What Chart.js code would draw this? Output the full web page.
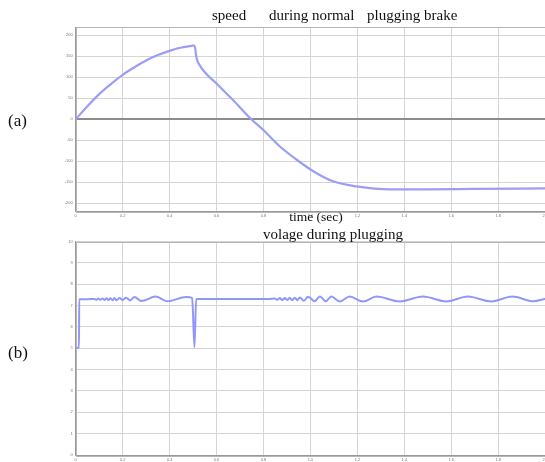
<!DOCTYPE html>
<html><head><meta charset="utf-8">
<script src="https://cdn.jsdelivr.net/npm/chart.js@4"></script>
<style>
html,body{margin:0;padding:0;background:#fff;overflow:hidden;width:545px;height:462px}
#wrap{position:relative;width:545px;height:462px;overflow:hidden}
canvas{position:absolute;left:0}
</style></head>
<body><div id="wrap">
<canvas id="c1" width="550" height="226" style="top:0;width:550px;height:226px"></canvas>
<canvas id="c2" width="550" height="236" style="top:226px;width:550px;height:236px"></canvas>
</div>
<script>
// ---- data ----
const speedTime   = [0, 0.05, 0.10, 0.15, 0.20, 0.25, 0.30, 0.35, 0.40, 0.45, 0.492, 0.500, 0.508, 0.514, 0.528, 0.600, 0.670, 0.748, 0.798, 0.870, 0.940, 1.012, 1.096, 1.196, 1.338, 1.500, 1.700, 2.000];
const speedValues = [0, 31, 60, 84, 106, 124, 140, 153, 163, 171, 175, 176, 172, 148, 129, 85, 46, 0, -25, -65, -96, -124, -148, -160, -167, -167, -166, -165];

const voltTime   = [0, 0.014, 0.015, 0.050, 0.080, 0.089, 0.097, 0.106, 0.114, 0.123, 0.131, 0.140, 0.148, 0.157, 0.165, 0.174, 0.187, 0.200, 0.215, 0.232, 0.250, 0.280, 0.340, 0.390, 0.470, 0.496, 0.506, 0.513, 0.550, 0.700, 0.820, 0.848, 0.858, 0.869, 0.880, 0.891, 0.902, 0.912, 0.922, 0.933, 0.944, 0.955, 0.972, 0.990, 1.018, 1.040, 1.065, 1.089, 1.125, 1.167, 1.224, 1.281, 1.380, 1.479, 1.579, 1.670, 1.770, 1.860, 1.950, 2.000];
const voltValues = [5.02, 5.02, 7.30, 7.30, 7.31, 7.27, 7.33, 7.27, 7.33, 7.26, 7.34, 7.26, 7.34, 7.25, 7.35, 7.25, 7.35, 7.26, 7.37, 7.24, 7.40, 7.21, 7.42, 7.20, 7.40, 7.36, 5.05, 7.31, 7.31, 7.31, 7.31, 7.33, 7.27, 7.35, 7.26, 7.35, 7.26, 7.36, 7.25, 7.37, 7.25, 7.38, 7.23, 7.41, 7.20, 7.42, 7.20, 7.42, 7.19, 7.42, 7.19, 7.42, 7.19, 7.42, 7.19, 7.42, 7.19, 7.42, 7.20, 7.32];

const xTickLabels    = [0, 0.2, 0.4, 0.6, 0.8, 1, 1.2, 1.4, 1.6, 1.8, 2];
const speedTickLabels = [-200, -150, -100, -50, 0, 50, 100, 150, 200];
const voltTickLabels  = [0, 1, 2, 3, 4, 5, 6, 7, 8, 9, 10];

const topTitleWords = ['speed', 'during normal', 'plugging brake'];
const xAxisTitle = 'time (sec)';
const bottomTitle = 'volage during plugging';
const panelLabels = ['(a)', '(b)'];

// ---- helpers ----
const GRID = '#d4d4d4';
const SERIF = '"Liberation Serif", "DejaVu Serif", serif';

function textPlugin(id, items) {
  return {
    id: id,
    afterDraw(chart) {
      const c = chart.ctx;
      c.save();
      c.fillStyle = '#111';
      c.textBaseline = 'alphabetic';
      items.forEach(it => {
        c.font = it.font;
        c.textAlign = it.align || 'left';
        c.fillText(it.text, it.x, it.y);
      });
      c.restore();
    }
  };
}
const boxPlugin = {
  id: 'box',
  beforeDatasetsDraw(chart) {
    const a = chart.chartArea, c = chart.ctx;
    c.save();
    c.strokeStyle = '#b5b5b5';
    c.lineWidth = 1;
    c.strokeRect(Math.round(a.left) + 0.5, Math.round(a.top) + 0.5, Math.round(a.right - a.left), Math.round(a.bottom - a.top));
    c.restore();
  }
};

function xScale(height) {
  return {
    type: 'linear', min: 0, max: 2,
    afterBuildTicks: s => { s.ticks = xTickLabels.map(v => ({ value: v })); },
    afterFit: s => { s.height = height; },
    grid: { color: GRID, lineWidth: 1, drawTicks: false },
    border: { display: true, color: '#9a9a9a', width: 1 },
    ticks: { font: { size: 4 }, color: '#777', padding: 2, maxRotation: 0, autoSkip: false }
  };
}

// ---- chart (a) ----
new Chart(document.getElementById('c1'), {
  type: 'line',
  data: {
    datasets: [{
      data: speedTime.map((t, i) => ({ x: t, y: speedValues[i] })),
      borderColor: '#9c9ef6', borderWidth: 2.2, pointRadius: 0,
      cubicInterpolationMode: 'monotone', fill: false
    }]
  },
  options: {
    responsive: false, animation: false, devicePixelRatio: 1,
    layout: { padding: { top: 27, left: 0, right: 4.3, bottom: 0 } },
    plugins: { legend: { display: false }, tooltip: { enabled: false }, title: { display: false } },
    scales: {
      x: xScale(14.5),
      y: {
        type: 'linear', min: -220, max: 220,
        afterBuildTicks: s => { s.ticks = speedTickLabels.map(v => ({ value: v })); },
        afterFit: s => { s.width = 75.7; },
        grid: {
          color: ctx => (ctx.tick && ctx.tick.value === 0) ? '#8c8c8c' : GRID,
          lineWidth: ctx => (ctx.tick && ctx.tick.value === 0) ? 2 : 1,
          drawTicks: false
        },
        border: { display: true, color: '#9a9a9a', width: 1 },
        ticks: { font: { size: 4 }, color: '#777', padding: 3 }
      }
    }
  },
  plugins: [boxPlugin, textPlugin('txt1', [
    { text: panelLabels[0], x: 8, y: 126, font: '17px ' + SERIF },
    { text: topTitleWords[0], x: 212, y: 19.5, font: '15px ' + SERIF },
    { text: topTitleWords[1], x: 269, y: 19.5, font: '15px ' + SERIF },
    { text: topTitleWords[2], x: 367, y: 19.5, font: '15px ' + SERIF },
    { text: xAxisTitle, x: 316, y: 221, font: '13.5px ' + SERIF, align: 'center' }
  ])]
});

// ---- chart (b) ----
new Chart(document.getElementById('c2'), {
  type: 'line',
  data: {
    datasets: [{
      data: voltTime.map((t, i) => ({ x: t, y: voltValues[i] })),
      borderColor: '#9197f7', borderWidth: 2, pointRadius: 0,
      cubicInterpolationMode: 'monotone', fill: false
    }]
  },
  options: {
    responsive: false, animation: false, devicePixelRatio: 1,
    layout: { padding: { top: 15.5, left: 0, right: 4.3, bottom: 0 } },
    plugins: { legend: { display: false }, tooltip: { enabled: false }, title: { display: false } },
    scales: {
      x: xScale(7),
      y: {
        type: 'linear', min: 0, max: 10,
        afterBuildTicks: s => { s.ticks = voltTickLabels.map(v => ({ value: v })); },
        afterFit: s => { s.width = 75.7; },
        grid: { color: GRID, lineWidth: 1, drawTicks: false },
        border: { display: true, color: '#9a9a9a', width: 1 },
        ticks: { font: { size: 4 }, color: '#777', padding: 3 }
      }
    }
  },
  plugins: [boxPlugin, textPlugin('txt2', [
    { text: panelLabels[1], x: 8, y: 358 - 226, font: '17px ' + SERIF },
    { text: bottomTitle, x: 333, y: 238.5 - 226, font: '15px ' + SERIF, align: 'center' }
  ])]
});
</script>
</body></html>
